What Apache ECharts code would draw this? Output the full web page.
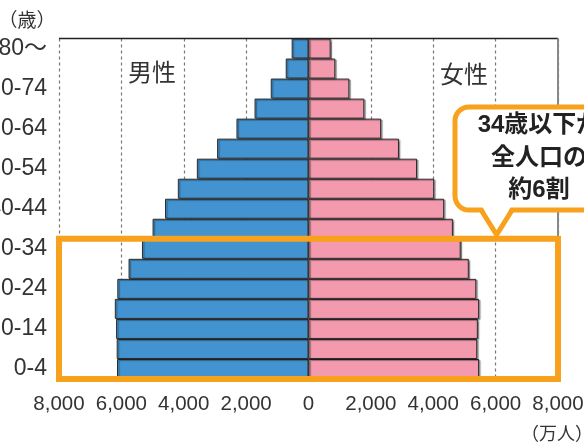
<!DOCTYPE html>
<html>
<head>
<meta charset="utf-8">
<script src="https://cdn.jsdelivr.net/npm/echarts@6/dist/echarts.min.js"></script>
<style>
html,body{margin:0;padding:0;background:#fff;}
#c{width:584px;height:448px;}
</style>
</head>
<body>
<div id="c"></div>
<script>
const categories = ['0-4','5-9','10-14','15-19','20-24','25-29','30-34','35-39','40-44','45-49','50-54','55-59','60-64','65-69','70-74','75-79','80～'];
const male   = [6140,6150,6170,6210,6130,5770,5340,5000,4600,4190,3580,2930,2310,1730,1210,730,540];
const female = [5470,5410,5430,5470,5380,5140,4880,4630,4350,4030,3480,2900,2330,1790,1310,860,710];
const xTicks = [-8000,-6000,-4000,-2000,0,2000,4000,6000,8000];

const FONT = '"Liberation Sans", "Noto Sans CJK JP", sans-serif';
const ORANGE = '#F7A11C';

const chart = echarts.init(document.getElementById('c'), null, {renderer:'canvas'});

const barStyle = (color) => ({
  color: color,
  borderColor: '#2b2b2b',
  borderWidth: 1,
  shadowColor: 'rgba(0,0,0,0.35)',
  shadowBlur: 1,
  shadowOffsetX: 1.5,
  shadowOffsetY: 1
});

chart.setOption({
  animation: false,
  backgroundColor: '#fff',
  grid: {left: 59, right: 26, top: 38.5, bottom: 69, containLabel: false, outerBoundsMode: 'none'},
  xAxis: {
    type: 'value',
    min: xTicks[0], max: xTicks[xTicks.length-1], interval: 2000,
    axisLine: {show: false},
    axisTick: {show: false},
    axisLabel: {
      fontFamily: FONT, fontSize: 20.5, color: '#333', margin: 15,
      formatter: v => Math.abs(v).toLocaleString('en-US')
    },
    splitLine: {show: true, lineStyle: {color: '#777', type: [3,3], width: 1.2}}
  },
  yAxis: {
    type: 'category',
    data: categories,
    axisLine: {show: true, lineStyle: {color: '#888', width: 1.5}},
    axisTick: {show: false},
    axisLabel: {interval: 1, fontFamily: FONT, fontSize: 23, color: '#333', margin: 12}
  },
  series: [
    {name: '男性', type: 'bar', stack: 'p', data: male.map(v => -v),
     barCategoryGap: '0%', itemStyle: barStyle('#4293CF')},
    {name: '女性', type: 'bar', stack: 'p', data: female,
     barCategoryGap: '0%', itemStyle: barStyle('#F49AAE')}
  ]
});

// Annotation geometry derived from the axes
const xl = chart.convertToPixel({xAxisIndex: 0}, xTicks[0]);
const xr = chart.convertToPixel({xAxisIndex: 0}, xTicks[xTicks.length-1]);
const c0 = chart.convertToPixel({yAxisIndex: 0}, categories[0]);
const c1 = chart.convertToPixel({yAxisIndex: 0}, categories[1]);
const c6 = chart.convertToPixel({yAxisIndex: 0}, categories[6]);
const cTop = chart.convertToPixel({yAxisIndex: 0}, categories[categories.length-1]);
const band = c0 - c1;
const yBottom = c0 + band/2;
const y34 = c6 - band/2;
const yTop = cTop - band/2;
const x6000 = chart.convertToPixel({xAxisIndex: 0}, 6000);

const bl = 455, bt = 107, br = 625, bb = 210;
const tipX = x6000 + 1, tipY = y34 - 4;

chart.setOption({
  graphic: [
    {type: 'line', z: 50, shape: {x1: xl, y1: yTop, x2: xr, y2: yTop}, style: {stroke: '#222', lineWidth: 1.5}},
    {type: 'line', z: 50, shape: {x1: xr, y1: yTop, x2: xr, y2: yBottom}, style: {stroke: '#888', lineWidth: 2}},
    {type: 'rect', z: 60, shape: {x: xl, y: y34, width: xr - xl, height: yBottom - y34},
     style: {fill: 'none', stroke: ORANGE, lineWidth: 6}},
    {type: 'rect', z: 61, shape: {x: bl, y: bt, width: br - bl, height: bb - bt, r: 14},
     style: {fill: '#fff', stroke: ORANGE, lineWidth: 5}},
    {type: 'polygon', z: 62, shape: {points: [[tipX-14, bb-3], [tipX+14, bb-3], [tipX, tipY]]},
     style: {fill: '#fff'}},
    {type: 'polyline', z: 63, shape: {points: [[tipX-15.5, bb], [tipX, tipY], [tipX+15.5, bb]]},
     style: {fill: null, stroke: ORANGE, lineWidth: 5, lineJoin: 'miter'}},
    {type: 'text', z: 64, x: 539, y: 158,
     style: {text: '34歳以下が\n全人口の\n約6割', fontFamily: FONT, fontWeight: 'bold', fontSize: 24,
       lineHeight: 32.5, fill: '#222', align: 'center', verticalAlign: 'middle'}},
    {type: 'text', z: 64, x: 152, y: 74,
     style: {text: '男性', fontFamily: FONT, fontSize: 24, fill: '#333', align: 'center', verticalAlign: 'middle'}},
    {type: 'text', z: 64, x: 464, y: 76,
     style: {text: '女性', fontFamily: FONT, fontSize: 24, fill: '#333', align: 'center', verticalAlign: 'middle'}},
    {type: 'text', z: 64, x: 27, y: 22,
     style: {text: '（歳）', fontFamily: FONT, fontSize: 19, fill: '#333', align: 'center', verticalAlign: 'middle'}},
    {type: 'text', z: 64, x: 557, y: 435,
     style: {text: '（万人）', fontFamily: FONT, fontSize: 18, fill: '#333', align: 'center', verticalAlign: 'middle'}}
  ]
});
</script>
</body>
</html>
